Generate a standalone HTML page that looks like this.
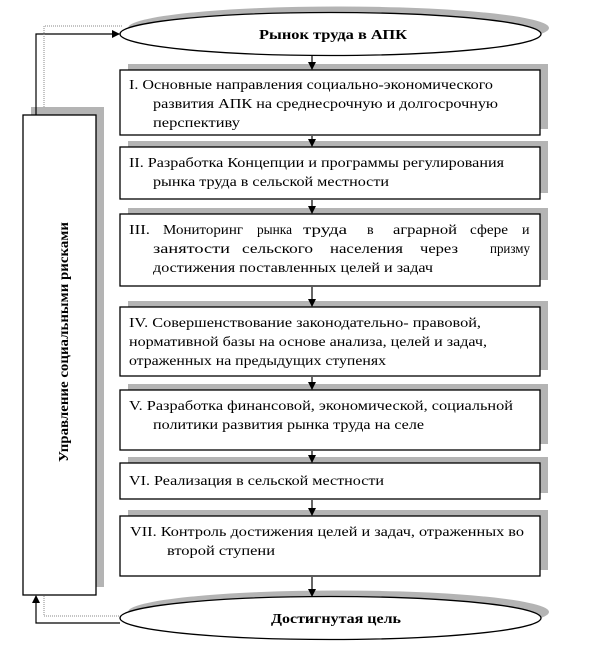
<!DOCTYPE html>
<html><head><meta charset="utf-8"><style>
html,body{margin:0;padding:0;background:#fff;}
svg{display:block}
text{font-family:"Liberation Serif",serif;font-size:14px;fill:#000}
.b{font-weight:bold;font-size:14px}
</style></head><body>
<svg width="612" height="647" viewBox="0 0 612 647" xmlns="http://www.w3.org/2000/svg">
<defs>
<marker id="ar" markerWidth="8" markerHeight="8" refX="7" refY="4" orient="auto" markerUnits="userSpaceOnUse">
<path d="M0,0 L8,4 L0,8 z" fill="#000"/></marker>
</defs>
<g fill="#b4b4b4">
<ellipse cx="338.5" cy="28" rx="210.5" ry="21.5"/>
<rect x="128" y="64" width="420" height="65"/>
<rect x="128" y="141" width="420" height="52"/>
<rect x="128" y="208" width="420" height="72"/>
<rect x="128" y="301" width="420" height="69"/>
<rect x="128" y="384" width="420" height="60"/>
<rect x="128" y="457" width="420" height="36"/>
<rect x="128" y="510" width="420" height="60"/>
<ellipse cx="338.5" cy="612" rx="210.5" ry="21.5"/>
<rect x="31" y="107" width="73" height="480"/>
</g>
<g fill="#fff" stroke="#000" stroke-width="1.3">
<ellipse cx="330.5" cy="34" rx="210.5" ry="21.5"/>
<rect x="120" y="70" width="420" height="65"/>
<rect x="120" y="147" width="420" height="52"/>
<rect x="120" y="214" width="420" height="72"/>
<rect x="120" y="307" width="420" height="69"/>
<rect x="120" y="390" width="420" height="60"/>
<rect x="120" y="463" width="420" height="36"/>
<rect x="120" y="516" width="420" height="60"/>
<ellipse cx="330.5" cy="618" rx="210.5" ry="21.5"/>
<rect x="23" y="115" width="73" height="480"/>
</g>
<g stroke="#000" stroke-width="1.2" fill="none">
<line x1="312" y1="56" x2="312" y2="69" marker-end="url(#ar)"/>
<line x1="312" y1="136" x2="312" y2="146" marker-end="url(#ar)"/>
<line x1="312" y1="200" x2="312" y2="213" marker-end="url(#ar)"/>
<line x1="312" y1="287" x2="312" y2="306" marker-end="url(#ar)"/>
<line x1="312" y1="377" x2="312" y2="389" marker-end="url(#ar)"/>
<line x1="312" y1="451" x2="312" y2="462" marker-end="url(#ar)"/>
<line x1="312" y1="500" x2="312" y2="515" marker-end="url(#ar)"/>
<line x1="312" y1="577" x2="312" y2="596" marker-end="url(#ar)"/>
<polyline points="36,115 36,34 119,34" marker-end="url(#ar)"/>
<polyline points="120,623 36,623 36,596" marker-end="url(#ar)"/>
</g>
<g stroke="#888" stroke-width="1" fill="none" stroke-dasharray="1,1">
<polyline points="44,107 44,26 122,26"/>
<polyline points="44,596 44,616 120,616"/>
</g>
<text class="b" x="259" y="39" textLength="148" lengthAdjust="spacingAndGlyphs">Рынок труда в АПК</text>
<text class="b" x="271" y="623" textLength="130" lengthAdjust="spacingAndGlyphs">Достигнутая цель</text>
<text class="b" transform="translate(68,462) rotate(-90)" textLength="240" lengthAdjust="spacingAndGlyphs">Управление социальными рисками</text>
<text x="129" y="89" textLength="364" lengthAdjust="spacingAndGlyphs">I. Основные направления социально-экономического</text>
<text x="153" y="108" textLength="345" lengthAdjust="spacingAndGlyphs">развития АПК на среднесрочную и долгосрочную</text>
<text x="153" y="127" textLength="87" lengthAdjust="spacingAndGlyphs">перспективу</text>
<text x="129" y="167" textLength="375" lengthAdjust="spacingAndGlyphs">II. Разработка Концепции и программы регулирования</text>
<text x="153" y="186" textLength="236" lengthAdjust="spacingAndGlyphs">рынка труда в сельской местности</text>
<text x="129" y="234" textLength="21" lengthAdjust="spacingAndGlyphs">III.</text>
<text x="163" y="234" textLength="80" lengthAdjust="spacingAndGlyphs">Мониторинг</text>
<text x="257" y="234" textLength="35" lengthAdjust="spacingAndGlyphs">рынка</text>
<text x="303" y="234" textLength="44" lengthAdjust="spacingAndGlyphs">труда</text>
<text x="367" y="234">в</text>
<text x="393" y="234" textLength="64" lengthAdjust="spacingAndGlyphs">аграрной</text>
<text x="470" y="234" textLength="38" lengthAdjust="spacingAndGlyphs">сфере</text>
<text x="522" y="234">и</text>
<text x="153" y="253" textLength="77" lengthAdjust="spacingAndGlyphs">занятости</text>
<text x="242" y="253" textLength="71" lengthAdjust="spacingAndGlyphs">сельского</text>
<text x="330" y="253" textLength="73" lengthAdjust="spacingAndGlyphs">населения</text>
<text x="420" y="253" textLength="38" lengthAdjust="spacingAndGlyphs">через</text>
<text x="490" y="253" textLength="40" lengthAdjust="spacingAndGlyphs">призму</text>
<text x="153" y="272" textLength="280" lengthAdjust="spacingAndGlyphs">достижения поставленных целей и задач</text>
<text x="129" y="327" textLength="352" lengthAdjust="spacingAndGlyphs">IV. Совершенствование законодательно- правовой,</text>
<text x="129" y="346" textLength="358" lengthAdjust="spacingAndGlyphs">нормативной базы на основе анализа, целей и задач,</text>
<text x="129" y="365" textLength="257" lengthAdjust="spacingAndGlyphs">отраженных на предыдущих ступенях</text>
<text x="129" y="410" textLength="384" lengthAdjust="spacingAndGlyphs">V. Разработка финансовой, экономической, социальной</text>
<text x="153" y="429" textLength="271" lengthAdjust="spacingAndGlyphs">политики развития рынка труда на селе</text>
<text x="129" y="485" textLength="255" lengthAdjust="spacingAndGlyphs">VI. Реализация в сельской местности</text>
<text x="130" y="536" textLength="394" lengthAdjust="spacingAndGlyphs">VII. Контроль достижения целей и задач,  отраженных во</text>
<text x="167" y="555" textLength="108" lengthAdjust="spacingAndGlyphs">второй ступени</text>
</svg>
</body></html>
